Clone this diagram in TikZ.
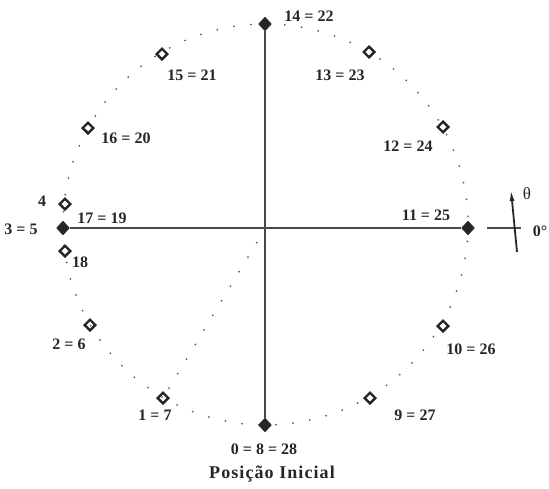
\documentclass[tikz,border=0pt]{standalone}
\usepackage{fontspec}
\setmainfont{Liberation Serif}
\usetikzlibrary{shapes.geometric,arrows.meta}
\definecolor{ink}{HTML}{262626}
\definecolor{axis}{HTML}{4A4A4A}
\definecolor{dotc}{HTML}{5A5A5A}
\begin{document}
\begin{tikzpicture}[x=1pt,y=-1pt,
  opendia/.style={draw=ink,rectangle,rotate=45,minimum size=7.5pt,inner sep=0pt,line width=2.4pt},
  filldia/.style={diamond,fill=ink,draw=ink,minimum width=13pt,minimum height=14pt,inner sep=0pt},
  lab/.style={font=\fontsize{16}{17}\selectfont\bfseries,text=ink,inner sep=0pt},
  axisline/.style={draw=axis,line width=1.8pt},
  dotline/.style={draw=dotc,line width=2pt,line cap=round,dash pattern=on 0pt off 17pt}]
\useasboundingbox (0,0) rectangle (549,488);
% dotted circle
\draw[dotline] (265.5,224.5) ellipse [x radius=202.5, y radius=200.5];
% markers
\coordinate (c) at (265.5,228);
\node[filldia] (p14) at (265,24) {};
\node[opendia] (p13) at (369,52) {};
\node[opendia] (p12) at (443,127) {};
\node[filldia] (p11) at (468,228) {};
\node[opendia] (p10) at (443,326) {};
\node[opendia] (p9) at (370,398) {};
\node[filldia] (p0) at (265,425) {};
\node[opendia] (p1) at (163,398) {};
\node[opendia] (p2) at (90,325) {};
\node[filldia] (p3) at (63,228) {};
\node[opendia] (p4) at (65,204) {};
\node[opendia] (p18) at (65,251) {};
\node[opendia] (p16) at (88,128) {};
\node[opendia] (p15) at (162,54) {};
% axes
\draw[axisline] (p14) -- (p0);
\draw[axisline] (p3) -- (p11);
\draw[dotline] (c) -- (p1);
% labels
\node[lab] (l14) at (309,16) {14 = 22};
\node[lab] (l13) at (340,75) {13 = 23};
\node[lab] (l12) at (408,146) {12 = 24};
\node[lab] (l11) at (426,215) {11 = 25};
\node[lab] (l10) at (471,349) {10 = 26};
\node[lab] (l9) at (415,415) {9 = 27};
\node[lab] (l0) at (264,449) {0 = 8 = 28};
\node[lab] (l1) at (155,415) {1 = 7};
\node[lab] (l2) at (69,344) {2 = 6};
\node[lab] (l3) at (21,229) {3 = 5};
\node[lab] (l4) at (42,201) {4};
\node[lab] (l17) at (102,218) {17 = 19};
\node[lab] (l18) at (80,262) {18};
\node[lab] (l16) at (126,138) {16 = 20};
\node[lab] (l15) at (192,75) {15 = 21};
\node[font=\fontsize{18}{19}\selectfont\bfseries\addfontfeature{LetterSpace=6},text=ink,inner sep=0pt] (title) at (272,474) {Posição Inicial};
% angle reference
\coordinate (r0) at (487,228);
\coordinate (r1) at (521,228);
\coordinate (a0) at (517,252);
\coordinate (a1) at (511,190);
\draw[draw=axis,line width=1.4pt] (r0) -- (r1);
\draw[draw=ink,line width=1.8pt,-{Latex[length=11pt,width=5pt]}] (a0) -- (a1);
\node[font=\fontsize{17}{18}\selectfont,text=ink,inner sep=0pt] (th) at (527,194) {θ};
\node[lab] (zero) at (540,231) {0°};
\end{tikzpicture}
\end{document}
